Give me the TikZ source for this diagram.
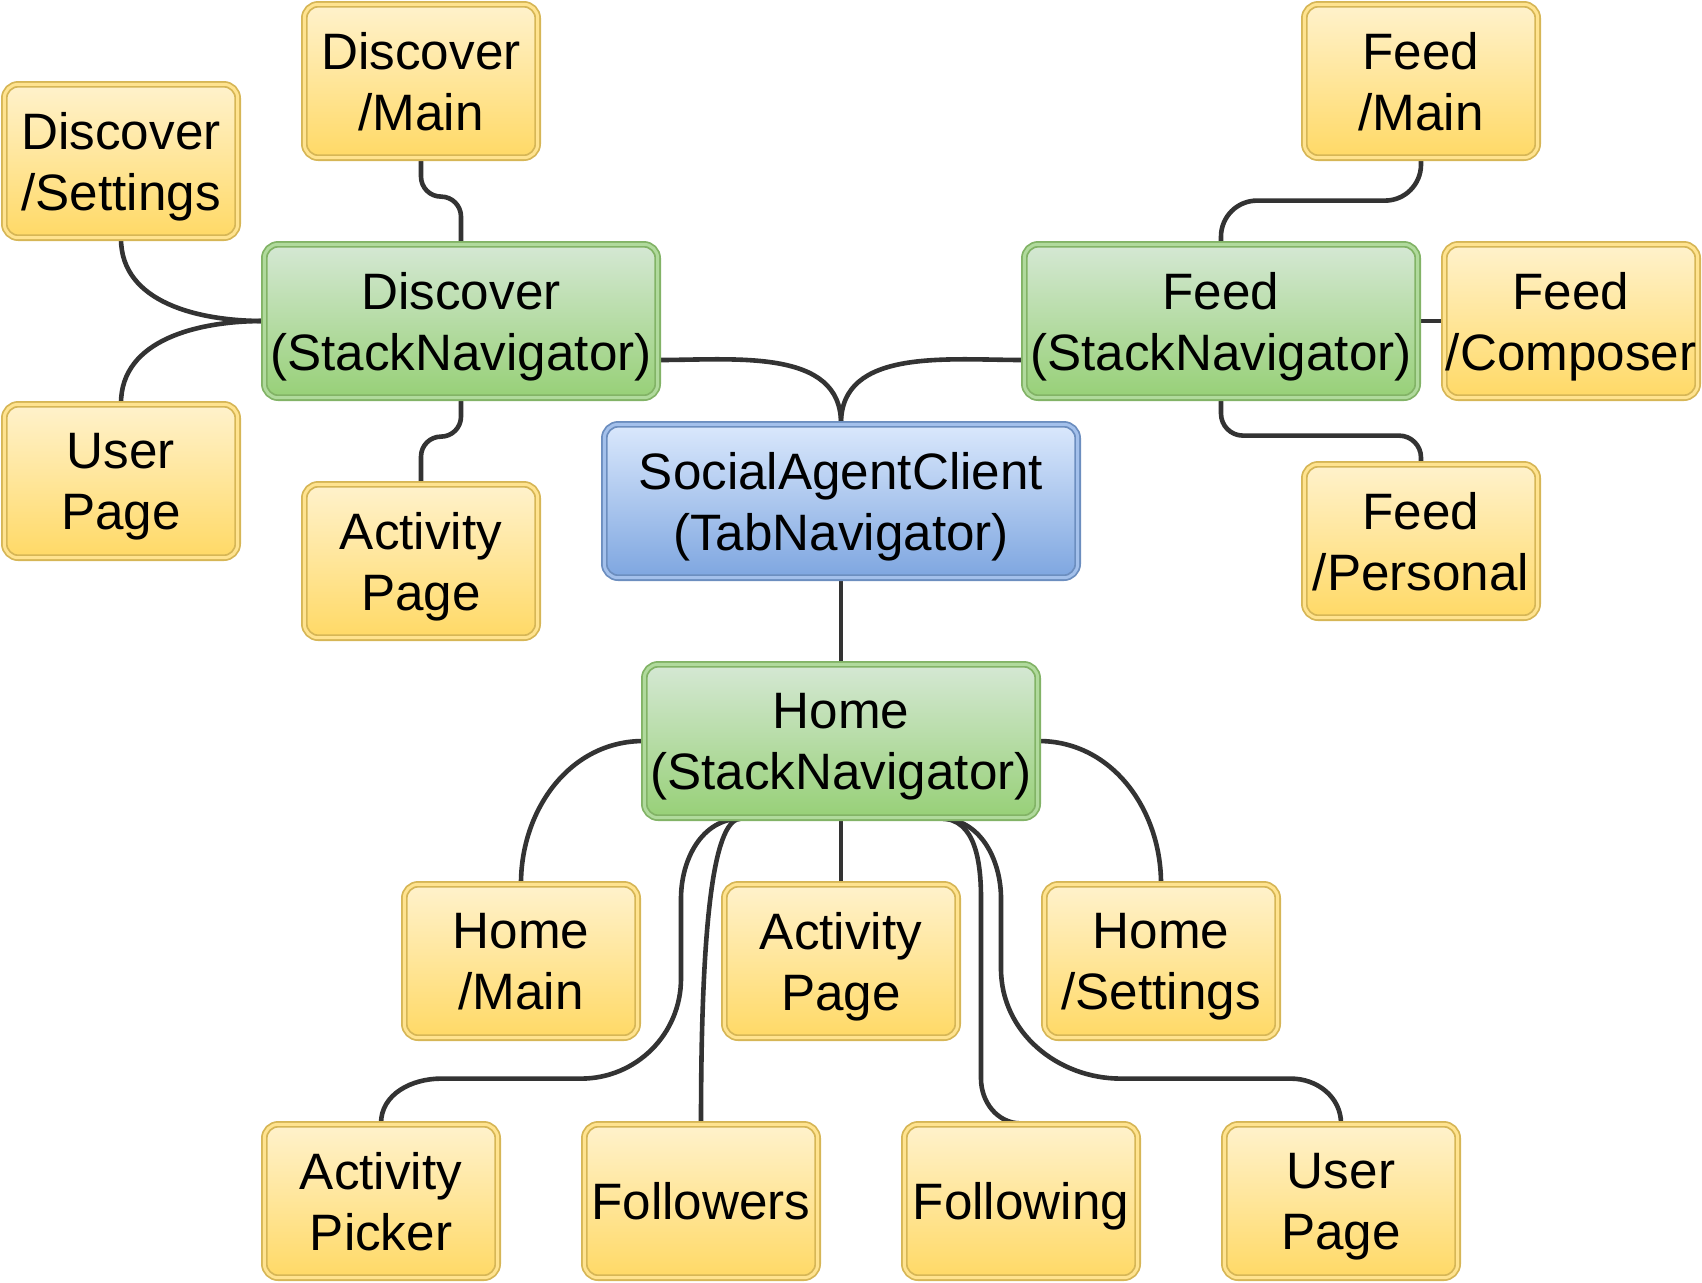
\documentclass[tikz,border=0pt]{standalone}
\usepackage{fontspec}
\setmainfont{Liberation Sans}
\usepackage{xcolor}
\usetikzlibrary{backgrounds}

\definecolor{leaftop}{HTML}{FFF2CC}
\definecolor{leafbot}{HTML}{FFD966}
\definecolor{leafline}{HTML}{D6B656}
\definecolor{navtop}{HTML}{D5E8D4}
\definecolor{navbot}{HTML}{97D077}
\definecolor{navline}{HTML}{82B366}
\definecolor{roottop}{HTML}{DAE8FC}
\definecolor{rootbot}{HTML}{7EA6E0}
\definecolor{rootline}{HTML}{6C8EBF}
\definecolor{linkgray}{HTML}{333333}

\tikzset{
  box/.style={rounded corners=7pt, line width=0.9pt, double distance=1.5pt, inner sep=0pt, align=center, text depth=0pt, minimum height=76.7pt, font=\fontsize{25.6}{30.5}\selectfont},
  leaf/.style={box, draw=leafline, double=leaftop!40!leafbot, top color=leaftop, bottom color=leafbot, minimum width=116.7pt},
  nav/.style={box, draw=navline, double=navtop!40!navbot, top color=navtop, bottom color=navbot, minimum width=196.7pt},
  root/.style={box, draw=rootline, double=roottop!40!rootbot, top color=roottop, bottom color=rootbot, minimum width=236.7pt},
  link/.style={draw=linkgray, line width=2.3pt},
}

\begin{document}
\begin{tikzpicture}[x=0.5pt,y=-0.5pt]
    \useasboundingbox (0,0) rectangle (1702,1282);

    %Navigators
    \node[root] (tab) at (841,501) {SocialAgentClient\\(TabNavigator)};
    \node[nav] (dsn) at (461,321) {Discover\\(StackNavigator)};
    \node[nav] (fsn) at (1221,321) {Feed\\(StackNavigator)};
    \node[nav] (hsn) at (841,741) {Home\\(StackNavigator)};

    %Discover screens
    \node[leaf] (dmain) at (421,81) {Discover\\/Main};
    \node[leaf] (dset) at (121,161) {Discover\\/Settings};
    \node[leaf] (duser) at (121,481) {User\\Page};
    \node[leaf] (dact) at (421,561) {Activity\\Page};

    %Feed screens
    \node[leaf] (fmain) at (1421,81) {Feed\\/Main};
    \node[leaf, minimum width=126.7pt] (fcomp) at (1571,321) {Feed\\/Composer};
    \node[leaf] (fpers) at (1421,541) {Feed\\/Personal};

    %Home screens
    \node[leaf] (hmain) at (521,961) {Home\\/Main};
    \node[leaf] (hact) at (841,961) {Activity\\Page};
    \node[leaf] (hset) at (1161,961) {Home\\/Settings};
    \node[leaf] (hpick) at (381,1201) {Activity\\Picker};
    \node[leaf] (hfol) at (701,1201) {Followers};
    \node[leaf] (hfing) at (1021,1201) {Following};
    \node[leaf] (huser) at (1341,1201) {User\\Page};

    \begin{scope}[on background layer]
    %Tab links
    \draw[link] ([yshift=-19.5pt]dsn.east) to[out=0,in=90] (tab.north);
    \draw[link] ([yshift=-19.5pt]fsn.west) to[out=180,in=90] (tab.north);
    \draw[link] (tab.south) -- (hsn.north);

    %Discover links
    \draw[link] (dsn.west) to[out=180,in=-90] (dset.south);
    \draw[link] (dsn.west) to[out=180,in=90] (duser.north);
    \draw[link, rounded corners=10pt] (dmain.south) -- ++(0,38) -| (dsn.north);
    \draw[link, rounded corners=10pt] (dsn.south) -- ++(0,38) -| (dact.north);

    %Feed links
    \draw[link, rounded corners=18pt] (fmain.south) -- ++(0,42) -| (fsn.north);
    \draw[link, rounded corners=11pt] (fsn.south) -- ++(0,37) -| (fpers.north);
    \draw[link] (fsn.east) -- (fcomp.west);

    %Home links
    \draw[link] (hsn.west) to[out=180,in=90] (hmain.north);
    \draw[link] (hsn.east) to[out=0,in=90] (hset.north);
    \draw[link] (hsn.south) -- (hact.north);
    \draw[link] ([xshift=-50pt]hsn.south) to[out=180,in=90] ++(-60,80) -- ++(0,80) to[out=-90,in=0] ++(-100,100) -- ++(-140,0) to[out=180,in=90] (hpick.north);
    \draw[link] ([xshift=-50pt]hsn.south) .. controls +(-25,0) and +(0,-220) .. (hfol.north);
    \draw[link] ([xshift=50pt]hsn.south) to[out=0,in=90] ++(40,80) -- ++(0,180) to[out=-90,in=180] (hfing.north);
    \draw[link] ([xshift=50pt]hsn.south) to[out=0,in=90] ++(60,80) -- ++(0,70) to[out=-90,in=180] ++(120,110) -- ++(170,0) to[out=0,in=90] (huser.north);
    \end{scope}

\end{tikzpicture}
\end{document}
